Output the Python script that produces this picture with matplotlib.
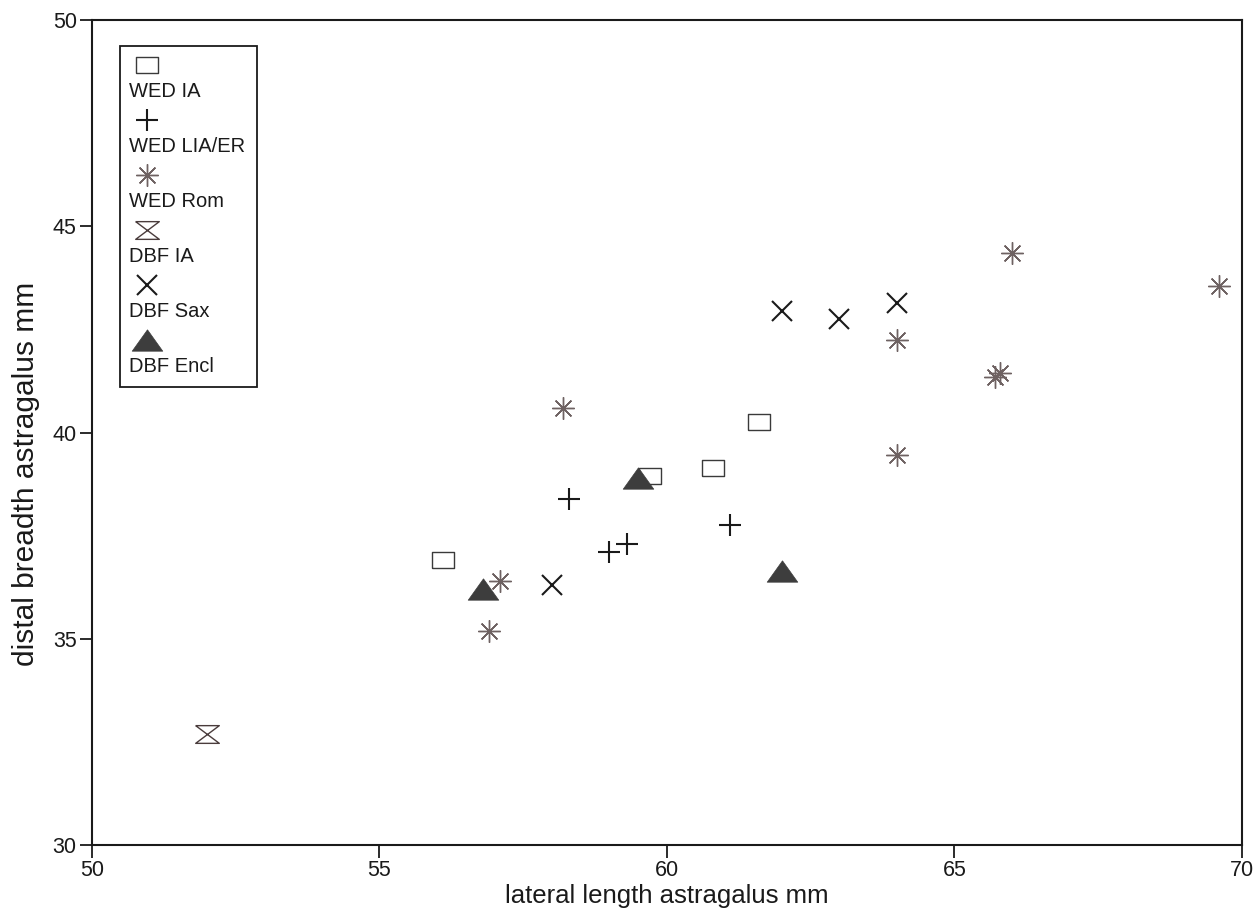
import matplotlib
matplotlib.use('Agg')
import matplotlib.pyplot as plt
from matplotlib.patches import Rectangle

# 폰트 설정 (Arial 비슷한 글꼴)
plt.rcParams['font.family'] = 'Liberation Sans'

# 데이터: 그림에서 읽은 값
wed_ia_x = [56.1, 59.7, 60.8, 61.6]
wed_ia_y = [36.9, 38.95, 39.15, 40.25]

wed_liaer_x = [58.3, 59.0, 59.3, 61.1]
wed_liaer_y = [38.4, 37.1, 37.3, 37.75]

wed_rom_x = [56.9, 57.1, 58.2, 64.0, 64.0, 65.7, 65.8, 66.0, 69.6]
wed_rom_y = [35.2, 36.4, 40.6, 39.45, 42.25, 41.35, 41.45, 44.35, 43.55]

dbf_ia_x = [52.0]
dbf_ia_y = [32.7]

dbf_sax_x = [58.0, 62.0, 63.0, 64.0]
dbf_sax_y = [36.3, 42.95, 42.75, 43.15]

dbf_encl_x = [56.8, 59.5, 62.0]
dbf_encl_y = [36.2, 38.9, 36.65]

labels = ['WED IA', 'WED LIA/ER', 'WED Rom', 'DBF IA', 'DBF Sax', 'DBF Encl']
x_ticks = [50, 55, 60, 65, 70]
y_ticks = [30, 35, 40, 45, 50]

# 마커 모양 (직사각형, 모래시계, 납작한 삼각형)
box = [(-1.38, -1), (1.38, -1), (1.38, 1), (-1.38, 1), (-1.38, -1)]
hourglass = [(-1, 0.75), (1, 0.75), (-1, -0.75), (1, -0.75), (-1, 0.75)]
tri = [(0, 0.7), (-1, -0.7), (1, -0.7), (0, 0.7)]

styles = [
    dict(marker=box, ms=16, mfc='none', mec='#3a3a3a', mew=1.0),
    dict(marker='+', ms=16, mec='#1a1a1a', mew=1.5),
    dict(marker=(8, 2, 0), ms=16, mec='#6e6262', mew=1.0),
    dict(marker=hourglass, ms=17, mfc='none', mec='#4a3c3c', mew=1.0),
    dict(marker='x', ms=15, mec='#1a1a1a', mew=1.5),
    dict(marker=tri, ms=22, mfc='#3d3d3d', mec='#3d3d3d', mew=0.5),
]
xs = [wed_ia_x, wed_liaer_x, wed_rom_x, dbf_ia_x, dbf_sax_x, dbf_encl_x]
ys = [wed_ia_y, wed_liaer_y, wed_rom_y, dbf_ia_y, dbf_sax_y, dbf_encl_y]

fig = plt.figure(figsize=(12.6, 9.21), dpi=100)
ax = fig.add_axes([0.073, 0.0825, 0.9127, 0.8958])

for x, y, st in zip(xs, ys, styles):
    ax.plot(x, y, ls='none', **st)

# 축 범위 / 눈금
ax.set_xlim(50, 70)
ax.set_ylim(30, 50)
ax.set_xticks(x_ticks)
ax.set_yticks(y_ticks)
ax.tick_params(direction='out', length=9, width=1.3, labelsize=15.5, pad=2,
               colors='#1a1a1a')
for s in ax.spines.values():
    s.set_linewidth(1.5)
    s.set_color('#1a1a1a')

ax.set_xlabel('lateral length astragalus mm', fontsize=18.5, labelpad=2,
              color='#1a1a1a')
ax.set_ylabel('distal breadth astragalus mm', fontsize=21.5, color='#1a1a1a')
ax.yaxis.set_label_coords(-0.045, 0.45)

# 범례: 마커 위, 글자 아래
ax.add_patch(Rectangle((0.0243, 0.555), 0.1192, 0.4135, transform=ax.transAxes,
                       fill=False, lw=1.3, ec='#1a1a1a'))
for i, (lab, st) in enumerate(zip(labels, styles)):
    my = 0.9455 - i * 0.0667
    ax.plot([0.0478], [my], transform=ax.transAxes, clip_on=False, ls='none', **st)
    ax.text(0.032, my - 0.032, lab, transform=ax.transAxes, fontsize=14.5,
            va='center', ha='left', color='#1a1a1a')

fig.savefig('out.png', dpi=100)
